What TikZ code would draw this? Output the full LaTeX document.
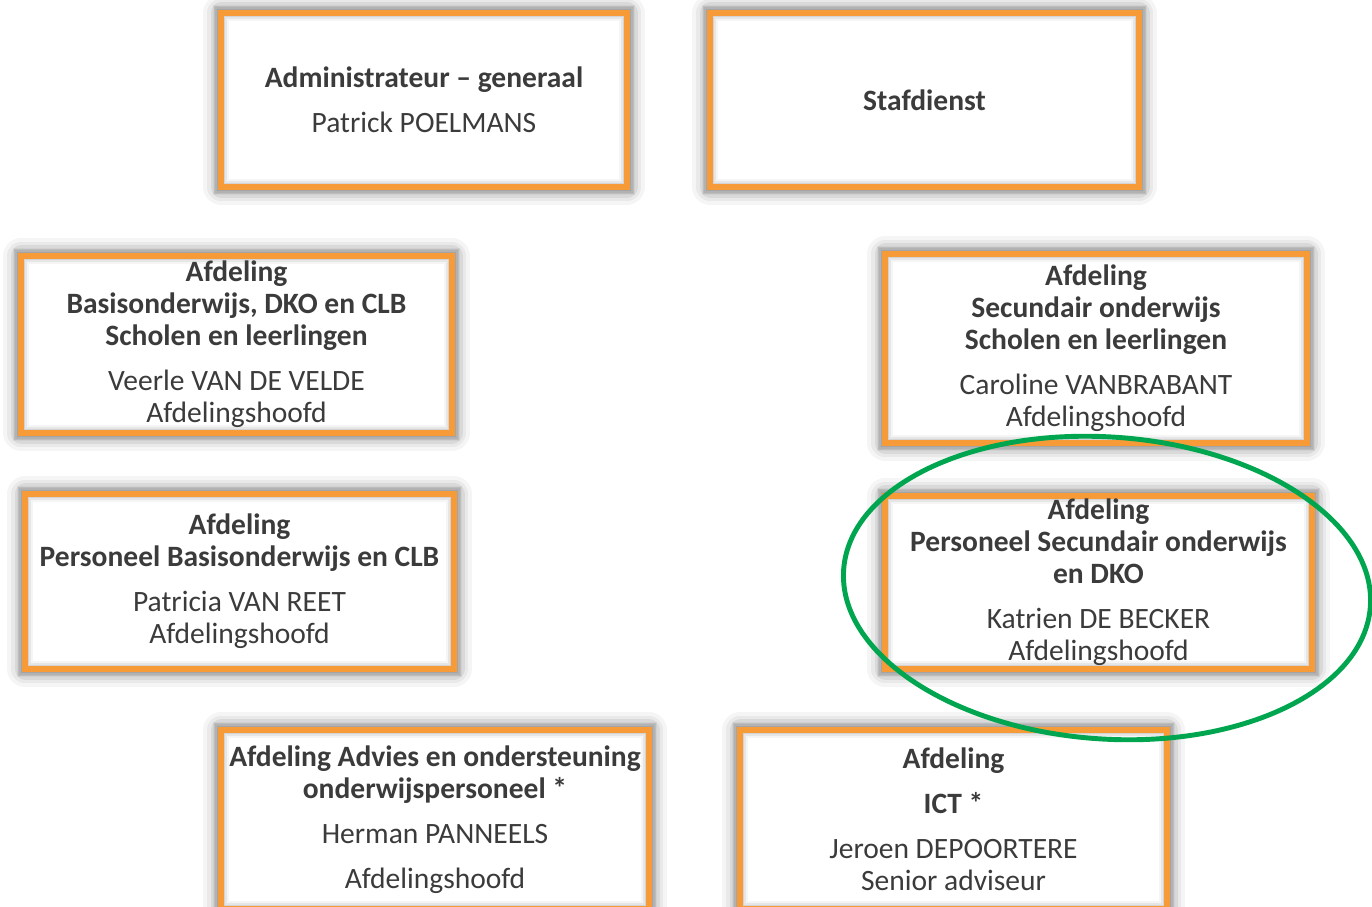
\documentclass[tikz,border=0pt]{standalone}
\usepackage{fontspec}
\setmainfont{Carlito}
\usepackage{tikz}
\definecolor{boxorange}{HTML}{F79A38}
\definecolor{ringgreen}{HTML}{00A64F}
\definecolor{textgray}{HTML}{3B3B3B}

\begin{document}
\begin{tikzpicture}[x=0.02cm,y=-0.02cm,
  unit/.style={draw=boxorange, line width=3.4pt, align=center,
    text=textgray, inner sep=0pt, font=\fontsize{16.8}{18.2}\selectfont,
    preaction={draw=black, opacity=.04, line width=20pt, line join=round},
    preaction={draw=black, opacity=.05, line width=16pt, line join=round},
    preaction={draw=black, opacity=.07, line width=12pt, line join=round},
    preaction={draw=black, opacity=.09, line width=8pt},
    preaction={fill=white},
    preaction={draw=black, opacity=.04, line width=9pt},
    preaction={draw=black, opacity=.06, line width=7pt},
    preaction={draw=black, opacity=.08, line width=5pt}}]
\useasboundingbox (0,0) rectangle (1372,906);

\node[unit, minimum width=8.12cm, minimum height=3.48cm] (adm) at (424,100)
  {\textbf{Administrateur – generaal}\\[7.4pt] Patrick POELMANS};
\node[unit, minimum width=8.58cm, minimum height=3.48cm] (staf) at (924.5,100)
  {\textbf{Stafdienst}};

\node[unit, minimum width=8.62cm, minimum height=3.54cm] (basis) at (236.5,344.5)
  {\textbf{Afdeling}\\ \textbf{Basisonderwijs, DKO en CLB}\\ \textbf{Scholen en leerlingen}\\[7.4pt]
   Veerle VAN DE VELDE\\ Afdelingshoofd};
\node[unit, minimum width=8.44cm, minimum height=3.78cm] (secund) at (1096,348.5)
  {\textbf{Afdeling}\\ \textbf{Secundair onderwijs}\\ \textbf{Scholen en leerlingen}\\[7.4pt]
   Caroline VANBRABANT\\ Afdelingshoofd};

\node[unit, minimum width=8.58cm, minimum height=3.5cm] (persbasis) at (239.5,581.5)
  {\textbf{Afdeling}\\ \textbf{Personeel Basisonderwijs en CLB}\\[7.4pt]
   Patricia VAN REET\\ Afdelingshoofd};
\node[unit, minimum width=8.54cm, minimum height=3.46cm] (perssec) at (1098.5,582.5)
  {\textbf{Afdeling}\\ \textbf{Personeel Secundair onderwijs}\\ \textbf{en DKO}\\[7.4pt]
   Katrien DE BECKER\\ Afdelingshoofd};

\node[unit, minimum width=8.56cm, minimum height=3.58cm] (advies) at (435,819.5)
  {\textbf{Afdeling Advies en ondersteuning}\\ \textbf{onderwijspersoneel *}\\[7.4pt]
   Herman PANNEELS\\[7.4pt] Afdelingshoofd};
\node[unit, minimum width=8.54cm, minimum height=3.58cm] (ict) at (953.5,819.5)
  {\textbf{Afdeling}\\[7.4pt] \textbf{ICT *}\\[7.4pt]
   Jeroen DEPOORTERE\\ Senior adviseur};

\draw[ringgreen, line width=2.8pt, rotate around={-4:(1107,588)}] (1107,588) ellipse (264 and 151);
\end{tikzpicture}
\end{document}
